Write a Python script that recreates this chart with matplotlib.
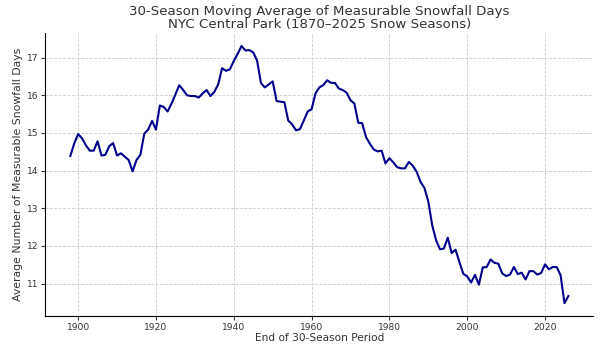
import numpy as np
import matplotlib
matplotlib.use("Agg")
import matplotlib.pyplot as plt

# end year of each 30-season window
years = list(range(1898, 2027))

# 30-season moving average of measurable snowfall days
avg_days = [
    14.39, 14.72, 14.97, 14.86, 14.67, 14.53, 14.53, 14.78, 14.40, 14.42,  # 1898-1907
    14.65, 14.73, 14.40, 14.46, 14.37, 14.28, 13.98, 14.28, 14.42, 14.98,  # 1908-1917
    15.09, 15.32, 15.09, 15.73, 15.69, 15.57, 15.78, 16.02, 16.27, 16.14,  # 1918-1927
    16.00, 15.98, 15.98, 15.94, 16.05, 16.14, 15.98, 16.09, 16.29, 16.72,  # 1928-1937
    16.65, 16.69, 16.91, 17.10, 17.31, 17.19, 17.20, 17.14, 16.92, 16.32,  # 1938-1947
    16.21, 16.29, 16.37, 15.85, 15.83, 15.82, 15.33, 15.23, 15.07, 15.10,  # 1948-1957
    15.33, 15.57, 15.63, 16.05, 16.21, 16.27, 16.40, 16.33, 16.33, 16.18,  # 1958-1967
    16.14, 16.07, 15.87, 15.78, 15.27, 15.26, 14.89, 14.71, 14.56, 14.51,  # 1968-1977
    14.53, 14.19, 14.33, 14.22, 14.09, 14.06, 14.06, 14.23, 14.13, 13.97,  # 1978-1987
    13.70, 13.54, 13.18, 12.55, 12.15, 11.91, 11.93, 12.22, 11.81, 11.90,  # 1988-1997
    11.57, 11.26, 11.19, 11.03, 11.23, 10.97, 11.43, 11.44, 11.64, 11.55,  # 1998-2007
    11.53, 11.27, 11.20, 11.24, 11.44, 11.25, 11.29, 11.11, 11.33, 11.33,  # 2008-2017
    11.24, 11.28, 11.51, 11.38, 11.44, 11.44, 11.22, 10.48, 10.67,         # 2018-2026
]

fig, ax = plt.subplots(figsize=(6.06, 3.45), dpi=100)
ax.plot(years, avg_days, color="darkblue", linewidth=1.5)

ax.set_title("30-Season Moving Average of Measurable Snowfall Days\n"
             "NYC Central Park (1870\u20132025 Snow Seasons)",
             fontsize=9.6, color="#333333", linespacing=1.0, pad=4)
ax.set_xlabel("End of 30-Season Period", fontsize=7.6, color="#333333", labelpad=1)
ax.set_ylabel("Average Number of Measurable Snowfall Days", fontsize=7.8,
              color="#333333", labelpad=3)

ax.tick_params(labelsize=6.6, colors="#333333", length=3, pad=2)
ax.grid(True, linestyle="--", color="#cccccc", linewidth=0.6)
ax.spines["top"].set_visible(False)
ax.spines["right"].set_visible(False)

fig.subplots_adjust(left=0.075, right=0.979, top=0.904, bottom=0.084)
fig.savefig("out.png", dpi=100)
